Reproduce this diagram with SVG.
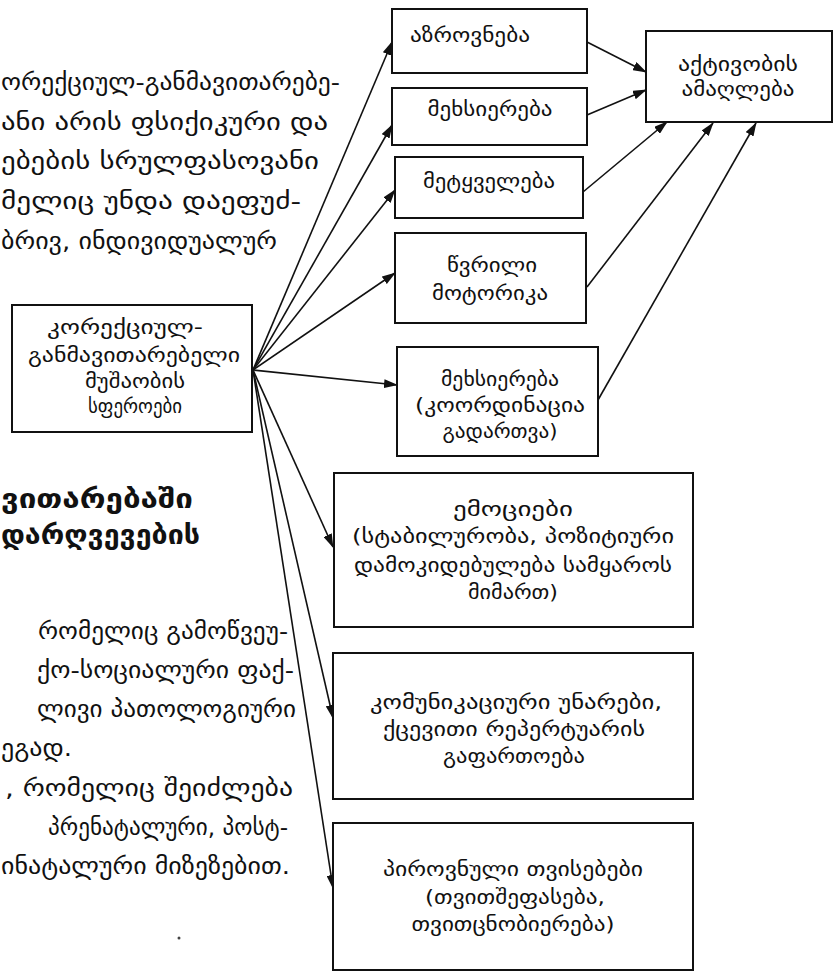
<svg xmlns="http://www.w3.org/2000/svg" width="833" height="977" viewBox="0 0 833 977">
<style>
.bg{fill:#fff}
.box{fill:#fff;stroke:#111;stroke-width:2}
.t{font-family:"DejaVu Sans",sans-serif;font-size:20px;fill:#111;text-anchor:middle}
.p{font-family:"DejaVu Sans",sans-serif;font-size:23px;fill:#111}
.h{font-family:"DejaVu Sans",sans-serif;font-size:26px;font-weight:bold;fill:#111}
.c{fill:none;stroke:#111;stroke-width:1.6;marker-end:url(#ah)}
</style>
<defs>
<marker id="ah" markerWidth="14" markerHeight="9" refX="13" refY="4.5" orient="auto" markerUnits="userSpaceOnUse">
<path d="M0,0 L14,4.5 L0,9 Z" fill="#111"/>
</marker>
</defs>
<rect class="bg" x="0" y="0" width="833" height="977"/>

<g id="text-top">
<text class="p" x="1" y="90" textLength="339" lengthAdjust="spacingAndGlyphs">ორექციულ-განმავითარებე-</text>
<text class="p" x="1" y="130" textLength="327" lengthAdjust="spacingAndGlyphs">ანი არის ფსიქიკური და</text>
<text class="p" x="1" y="169" textLength="318" lengthAdjust="spacingAndGlyphs">ებების სრულფასოვანი</text>
<text class="p" x="1" y="209" textLength="300" lengthAdjust="spacingAndGlyphs">მელიც უნდა დაეფუძ-</text>
<text class="p" x="1" y="249" textLength="276" lengthAdjust="spacingAndGlyphs">ბრივ, ინდივიდუალურ</text>
</g>
<g id="heading">
<text class="h" x="1" y="508" textLength="192" lengthAdjust="spacingAndGlyphs">ვითარებაში</text>
<text class="h" x="1" y="544" textLength="199" lengthAdjust="spacingAndGlyphs">დარღვევების</text>
</g>
<g id="text-bottom">
<text class="p" x="38" y="639" textLength="250" lengthAdjust="spacingAndGlyphs">რომელიც გამოწვეუ-</text>
<text class="p" x="37" y="678" textLength="257" lengthAdjust="spacingAndGlyphs">ქო-სოციალური ფაქ-</text>
<text class="p" x="37" y="717" textLength="259" lengthAdjust="spacingAndGlyphs">ლივი პათოლოგიური</text>
<text class="p" x="1" y="756" textLength="71" lengthAdjust="spacingAndGlyphs">ეგად.</text>
<text class="p" x="5" y="796" textLength="288" lengthAdjust="spacingAndGlyphs">, რომელიც შეიძლება</text>
<text class="p" x="48" y="835" textLength="240" lengthAdjust="spacingAndGlyphs">პრენატალური, პოსტ-</text>
<text class="p" x="1" y="874" textLength="289" lengthAdjust="spacingAndGlyphs">ინატალური მიზეზებით.</text>
<circle cx="179" cy="938" r="1.5" fill="#444"/>
</g>

<g id="connectors">
<path class="c" d="M253,370 L392,42"/>
<path class="c" d="M253,370 L392,125"/>
<path class="c" d="M253,370 L395,190"/>
<path class="c" d="M253,370 L395,273"/>
<path class="c" d="M253,370 L397,385"/>
<path class="c" d="M253,370 L333,547"/>
<path class="c" d="M253,370 L333,718"/>
<path class="c" d="M253,370 L333,888"/>
<path class="c" d="M587,42 L646,72"/>
<path class="c" d="M587,115 L646,90"/>
<path class="c" d="M583,192 L667,122"/>
<path class="c" d="M587,287 L713,123"/>
<path class="c" d="M598,400 L756,123"/>
</g>

<g id="n-sfero">
<rect class="box" x="12" y="305" width="240" height="127"/>
<text class="t" x="125" y="334" textLength="156" lengthAdjust="spacingAndGlyphs">კორექციულ-</text>
<text class="t" x="134" y="362" textLength="212" lengthAdjust="spacingAndGlyphs">განმავითარებელი</text>
<text class="t" x="135" y="388" textLength="100" lengthAdjust="spacingAndGlyphs">მუშაობის</text>
<text class="t" x="135" y="413" textLength="94" lengthAdjust="spacingAndGlyphs">სფეროები</text>
</g>
<g id="n-azrovneba">
<rect class="box" x="392" y="9" width="195" height="64"/>
<text class="t" x="470" y="42" textLength="120" lengthAdjust="spacingAndGlyphs">აზროვნება</text>
</g>
<g id="n-mexsiereba">
<rect class="box" x="392" y="88" width="195" height="57"/>
<text class="t" x="490" y="116" textLength="125" lengthAdjust="spacingAndGlyphs">მეხსიერება</text>
</g>
<g id="n-metkveleba">
<rect class="box" x="395" y="157" width="188" height="61"/>
<text class="t" x="489" y="188" textLength="132" lengthAdjust="spacingAndGlyphs">მეტყველება</text>
</g>
<g id="n-motorika">
<rect class="box" x="395" y="233" width="191" height="90"/>
<text class="t" x="492" y="272" textLength="90" lengthAdjust="spacingAndGlyphs">წვრილი</text>
<text class="t" x="490" y="300" textLength="116" lengthAdjust="spacingAndGlyphs">მოტორიკა</text>
</g>
<g id="n-mexsiereba2">
<rect class="box" x="397" y="347" width="201" height="109"/>
<text class="t" x="500" y="386" textLength="118" lengthAdjust="spacingAndGlyphs">მეხსიერება</text>
<text class="t" x="500" y="412" textLength="170" lengthAdjust="spacingAndGlyphs">(კოორდინაცია</text>
<text class="t" x="500" y="438" textLength="115" lengthAdjust="spacingAndGlyphs">გადართვა)</text>
</g>
<g id="n-emociebi">
<rect class="box" x="334" y="473" width="359" height="154"/>
<text class="t" x="513" y="516" textLength="120" lengthAdjust="spacingAndGlyphs">ემოციები</text>
<text class="t" x="513" y="543" textLength="322" lengthAdjust="spacingAndGlyphs">(სტაბილურობა, პოზიტიური</text>
<text class="t" x="513" y="572" textLength="318" lengthAdjust="spacingAndGlyphs">დამოკიდებულება სამყაროს</text>
<text class="t" x="513" y="599" textLength="90" lengthAdjust="spacingAndGlyphs">მიმართ)</text>
</g>
<g id="n-komunikacia">
<rect class="box" x="333" y="653" width="360" height="146"/>
<text class="t" x="516" y="709" textLength="292" lengthAdjust="spacingAndGlyphs">კომუნიკაციური უნარები,</text>
<text class="t" x="514" y="736" textLength="262" lengthAdjust="spacingAndGlyphs">ქცევითი რეპერტუარის</text>
<text class="t" x="514" y="763" textLength="142" lengthAdjust="spacingAndGlyphs">გაფართოება</text>
</g>
<g id="n-pirovnuli">
<rect class="box" x="333" y="823" width="360" height="147"/>
<text class="t" x="513" y="876" textLength="260" lengthAdjust="spacingAndGlyphs">პიროვნული თვისებები</text>
<text class="t" x="515" y="904" textLength="180" lengthAdjust="spacingAndGlyphs">(თვითშეფასება,</text>
<text class="t" x="513" y="931" textLength="203" lengthAdjust="spacingAndGlyphs">თვითცნობიერება)</text>
</g>
<g id="n-aktivoba">
<rect class="box" x="646" y="31" width="186" height="91"/>
<text class="t" x="738" y="71" textLength="120" lengthAdjust="spacingAndGlyphs">აქტივობის</text>
<text class="t" x="738" y="96" textLength="113" lengthAdjust="spacingAndGlyphs">ამაღლება</text>
</g>
</svg>
